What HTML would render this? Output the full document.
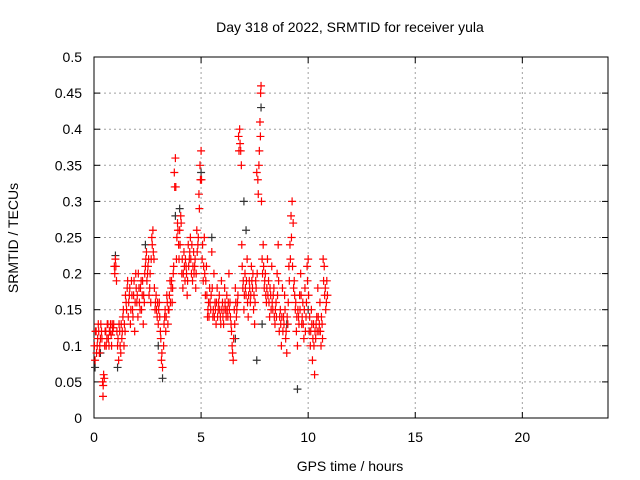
<!DOCTYPE html>
<html><head><meta charset="utf-8"><style>
body{margin:0;background:#fff}
svg{display:block;font-family:"Liberation Sans",sans-serif;font-size:14px}
</style></head><body>
<svg id="chart" width="640" height="480" viewBox="0 0 640 480">
<rect width="640" height="480" fill="#fff"/>
<text x="350" y="32" text-anchor="middle">Day 318 of 2022, SRMTID for receiver yula</text>
<text x="350" y="471" text-anchor="middle">GPS time / hours</text>
<text transform="translate(18,238) rotate(-90)" text-anchor="middle">SRMTID / TECUs</text>
<g id="grid"></g><g id="axes"></g><g id="marks"></g>
</svg>
<script>
const xTicks=[0,5,10,15,20];
const yTicks=[0,0.05,0.1,0.15,0.2,0.25,0.3,0.35,0.4,0.45,0.5];
const yTickLabels=["0","0.05","0.1","0.15","0.2","0.25","0.3","0.35","0.4","0.45","0.5"];
const redTimes=[0.05,0.1,0.15,0.2,0.25,0.3,0.35,0.4,0.42,0.45,0.48,0.5,0.55,0.6,0.65,0.7,0.75,0.8,0.85,0.9,0.95,1.0,1.05,1.1,1.15,1.2,1.25,1.3,1.35,1.4,1.45,1.5,1.55,1.6,1.65,1.7,1.75,1.8,1.85,1.9,1.95,2.0,2.05,2.1,2.15,2.2,2.25,2.3,2.35,2.4,2.45,2.5,2.55,2.6,2.65,2.7,2.75,2.8,2.85,2.9,2.95,3.0,3.05,3.1,3.15,3.2,3.25,3.3,3.35,3.4,3.45,3.5,3.55,3.6,3.65,3.7,3.75,3.8,3.82,3.85,3.9,3.95,4.0,4.05,4.1,4.15,4.2,4.25,4.3,4.35,4.4,4.45,4.5,4.55,4.6,4.65,4.7,4.75,4.8,4.85,4.9,4.95,5.0,5.02,5.05,5.1,5.15,5.2,5.25,5.3,5.35,5.4,5.45,5.5,5.55,5.6,5.65,5.7,5.75,5.8,5.85,5.9,5.95,6.0,6.05,6.1,6.15,6.2,6.25,6.3,6.35,6.4,6.45,6.5,6.55,6.6,6.65,6.7,6.75,6.8,6.85,6.88,6.9,6.95,7.0,7.05,7.1,7.15,7.2,7.25,7.3,7.35,7.4,7.45,7.5,7.55,7.6,7.65,7.7,7.75,7.78,7.8,7.82,7.85,7.9,7.95,8.0,8.05,8.1,8.15,8.2,8.25,8.3,8.35,8.4,8.45,8.5,8.55,8.6,8.65,8.7,8.75,8.8,8.85,8.9,8.95,9.0,9.05,9.1,9.15,9.2,9.25,9.3,9.35,9.4,9.45,9.5,9.55,9.6,9.65,9.7,9.75,9.8,9.85,9.9,9.95,10.0,10.05,10.1,10.15,10.2,10.25,10.3,10.35,10.4,10.45,10.5,10.55,10.6,10.65,10.7,10.75,10.8,10.85,10.9];
const redValues=[.08,.12,.10,.13,.09,.11,.12,.05,.03,.06,.055,.10,.12,.11,.13,.10,.12,.115,.13,.125,.21,.22,.19,.10,.08,.12,.09,.11,.14,.10,.12,.16,.18,.14,.17,.13,.19,.15,.17,.12,.20,.16,.14,.18,.15,.19,.17,.13,.16,.21,.23,.20,.22,.18,.16,.25,.26,.22,.15,.17,.14,.13,.16,.12,.08,.07,.10,.14,.12,.17,.13,.15,.19,.18,.16,.20,.34,.36,.32,.22,.27,.24,.26,.28,.20,.18,.23,.19,.21,.17,.24,.22,.25,.20,.19,.23,.21,.18,.26,.24,.31,.35,.37,.33,.22,.19,.25,.17,.21,.14,.16,.18,.15,.23,.14,.20,.16,.13,.18,.15,.17,.14,.19,.16,.13,.18,.15,.17,.14,.20,.16,.13,.10,.08,.15,.18,.14,.16,.39,.40,.37,.35,.24,.18,.15,.20,.17,.22,.14,.19,.16,.21,.18,.15,.13,.19,.34,.33,.35,.41,.45,.46,.30,.22,.24,.18,.20,.16,.22,.19,.14,.17,.21,.15,.18,.13,.16,.20,.24,.12,.15,.10,.18,.14,.17,.11,.09,.13,.21,.24,.28,.30,.27,.19,.15,.12,.10,.14,.17,.20,.13,.16,.11,.18,.14,.21,.22,.12,.10,.15,.08,.13,.06,.11,.14,.18,.12,.16,.10,.13,.22,.21,.18,.16,.17];
const redTimes2=[0.02,0.07,0.12,0.17,0.22,0.27,0.32,0.37,0.43,0.52,0.57,0.62,0.67,0.72,0.77,0.82,0.87,0.92,0.97,1.02,1.07,1.12,1.17,1.22,1.27,1.32,1.37,1.42,1.47,1.52,1.57,1.62,1.67,1.72,1.77,1.82,1.87,1.92,1.97,2.02,2.07,2.12,2.17,2.22,2.27,2.32,2.37,2.42,2.47,2.52,2.57,2.62,2.67,2.72,2.77,2.82,2.87,2.92,2.97,3.02,3.07,3.12,3.17,3.27,3.32,3.37,3.42,3.47,3.52,3.57,3.62,3.67,3.72,3.77,3.87,3.92,3.97,4.02,4.07,4.12,4.17,4.22,4.27,4.32,4.37,4.42,4.47,4.52,4.57,4.62,4.67,4.72,4.77,4.82,4.87,4.92,4.97,5.07,5.12,5.17,5.22,5.27,5.32,5.37,5.42,5.47,5.52,5.57,5.62,5.67,5.72,5.77,5.82,5.87,5.92,5.97,6.02,6.07,6.12,6.17,6.22,6.27,6.32,6.37,6.42,6.47,6.52,6.57,6.62,6.67,6.72,6.77,6.82,6.92,6.97,7.02,7.07,7.12,7.17,7.22,7.27,7.32,7.37,7.42,7.47,7.52,7.57,7.62,7.67,7.72,7.77,7.87,7.92,7.97,8.02,8.07,8.12,8.17,8.22,8.27,8.32,8.37,8.42,8.47,8.52,8.57,8.62,8.67,8.72,8.77,8.82,8.87,8.92,8.97,9.02,9.07,9.12,9.17,9.22,9.27,9.32,9.37,9.42,9.47,9.52,9.57,9.62,9.67,9.72,9.77,9.82,9.87,9.92,9.97,10.02,10.07,10.12,10.17,10.22,10.27,10.32,10.37,10.42,10.47,10.52,10.57,10.62,10.67,10.72,10.77,10.82,10.87];
const redValues2=[.10,.12,.09,.11,.12,.10,.13,.11,.045,.12,.10,.13,.11,.12,.13,.10,.12,.13,.20,.21,.12,.11,.13,.10,.13,.12,.15,.13,.17,.15,.19,.16,.18,.15,.17,.14,.19,.16,.18,.17,.20,.16,.18,.15,.19,.17,.20,.22,.19,.21,.17,.20,.22,.24,.23,.18,.16,.15,.16,.15,.14,.11,.09,.13,.15,.14,.16,.15,.17,.16,.19,.18,.21,.32,.25,.26,.22,.24,.27,.22,.20,.21,.22,.20,.19,.21,.23,.22,.24,.21,.20,.22,.20,.23,.25,.29,.33,.24,.21,.20,.19,.17,.15,.14,.16,.17,.18,.15,.14,.15,.16,.14,.16,.15,.13,.15,.14,.15,.16,.14,.15,.16,.15,.14,.12,.09,.11,.13,.16,.15,.17,.37,.38,.21,.19,.17,.18,.19,.16,.17,.18,.17,.19,.20,.17,.16,.18,.20,.31,.37,.39,.20,.21,.19,.17,.18,.17,.16,.18,.15,.16,.17,.14,.15,.14,.17,.19,.14,.13,.14,.12,.13,.15,.12,.14,.16,.19,.22,.25,.21,.18,.17,.16,.14,.15,.13,.15,.17,.14,.13,.15,.12,.16,.19,.17,.14,.12,.13,.11,.10,.12,.13,.12,.14,.13,.12,.14,.11,.19,.17,.15,.19];
const blackTimes=[0.05,0.3,1.0,1.1,2.4,3.0,3.2,3.8,4.0,5.0,5.5,6.6,7.0,7.1,7.6,7.8,7.85,9.0,9.5,10.0];
const blackValues=[.07,.09,.225,.07,.24,.10,.055,.28,.29,.34,.25,.11,.30,.26,.08,.43,.13,.13,.04,.15];
const L=94,R=608,T=57,B=418,NS="http://www.w3.org/2000/svg";
const xs=v=>L+(v/24)*(R-L), ys=v=>B-(v/0.5)*(B-T);
function mk(tag,at,p){const e=document.createElementNS(NS,tag);for(const k in at)e.setAttribute(k,at[k]);p.appendChild(e);return e;}
const grid=document.getElementById('grid'),axes=document.getElementById('axes'),marks=document.getElementById('marks');
xTicks.forEach(t=>{const x=xs(t);
 if(t>0){const g=mk('line',{x1:x,x2:x,y1:T,y2:B,stroke:'#a0a0a0','stroke-dasharray':'2,3'},grid);}
 const k=mk('line',{x1:x,x2:x,y1:B,y2:B-6,stroke:'#000'},axes);
 const k2=mk('line',{x1:x,x2:x,y1:T,y2:T+6,stroke:'#000'},axes);
 const tx=mk('text',{x:x,y:B+24,'text-anchor':'middle'},axes);tx.textContent=t;});
yTicks.forEach((t,i)=>{const y=ys(t);
 if(t>0&&t<0.5){const g=mk('line',{x1:L,x2:R,y1:y,y2:y,stroke:'#a0a0a0','stroke-dasharray':'2,3'},grid);}
 const k=mk('line',{x1:L,x2:L+6,y1:y,y2:y,stroke:'#000'},axes);
 const k2=mk('line',{x1:R,x2:R-6,y1:y,y2:y,stroke:'#000'},axes);
 const tx=mk('text',{x:L-12,y:y+5,'text-anchor':'end'},axes);tx.textContent=yTickLabels[i];});
const fr=mk('rect',{x:L,y:T,width:R-L,height:B-T,fill:'none',stroke:'#000'},axes);


function plus(t,v,c,name){const x=xs(t),y=ys(v);
 const p=mk('path',{d:`M${x-4},${y}H${x+4}M${x},${y-4}V${y+4}`,stroke:c,'stroke-width':1.2,fill:'none'},marks);
 
 }
blackTimes.forEach((t,i)=>plus(t,blackValues[i],'#333','black-point'));
redTimes.forEach((t,i)=>plus(t,redValues[i],'#ff0000','red-point'));
redTimes2.forEach((t,i)=>plus(t,redValues2[i],'#ff0000','red-point'));
</script>
</body></html>
